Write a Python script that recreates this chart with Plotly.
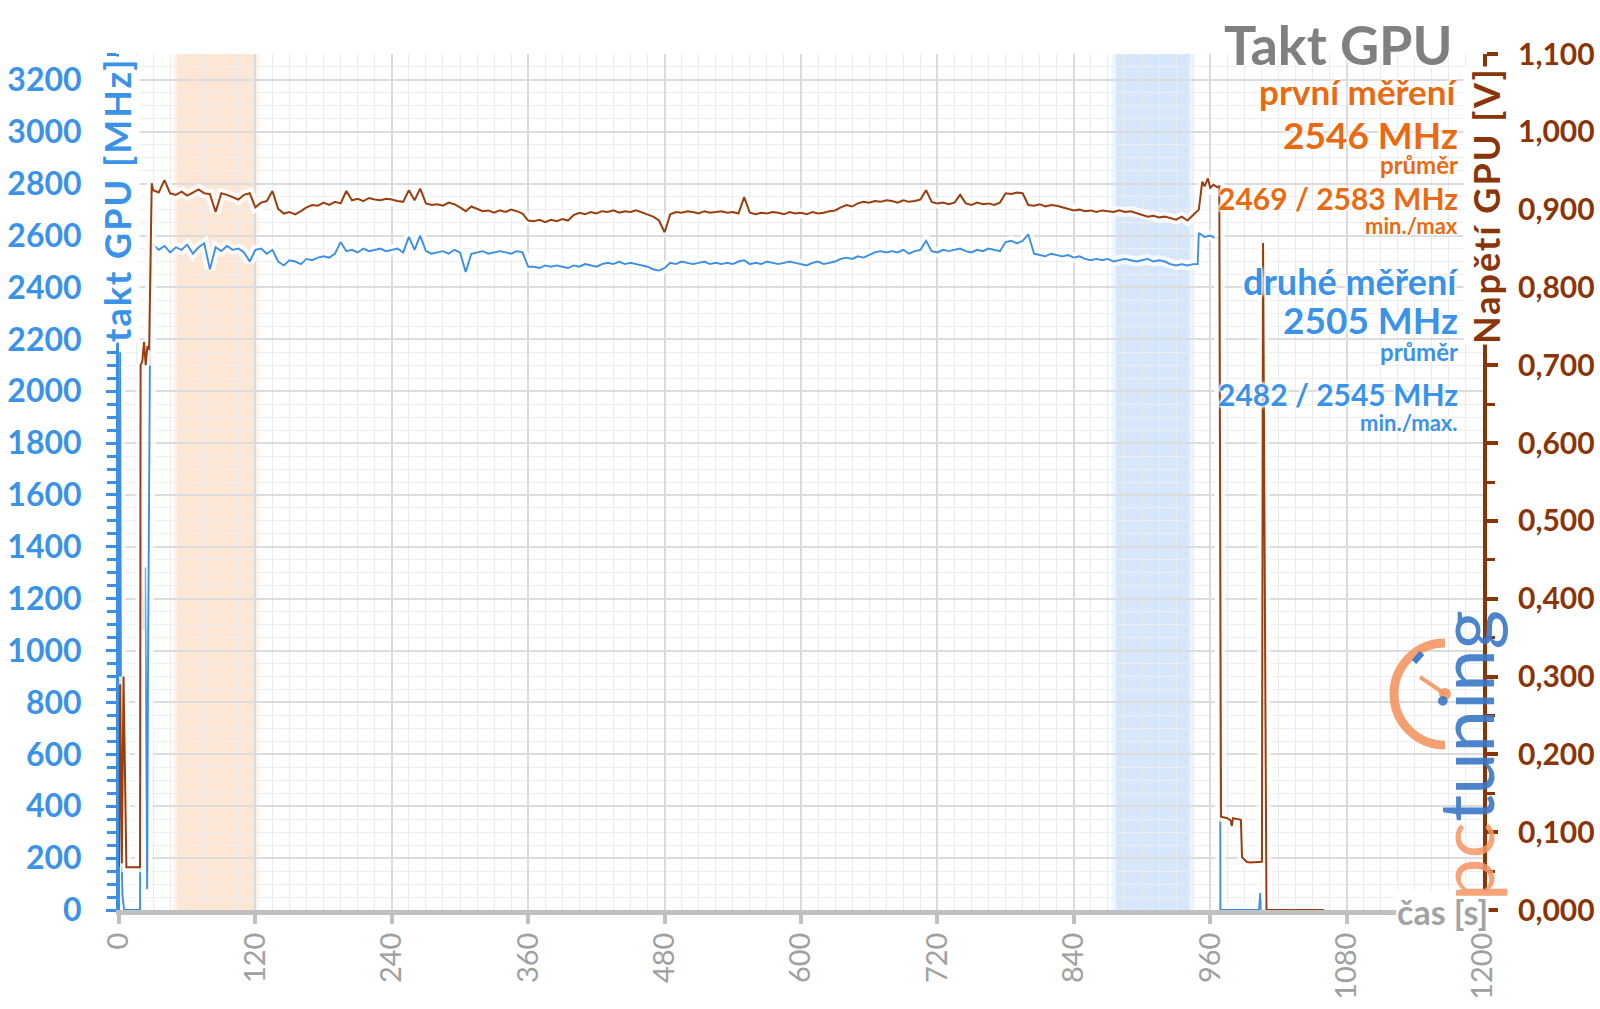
import plotly.graph_objects as go

# ------------------------------------------------------------------ data
x_ticks = [0, 120, 240, 360, 480, 600, 720, 840, 960, 1080, 1200]
left_ticks = [0, 200, 400, 600, 800, 1000, 1200, 1400, 1600, 1800, 2000,
              2200, 2400, 2600, 2800, 3000, 3200]
right_ticks = [0.0, 0.1, 0.2, 0.3, 0.4, 0.5, 0.6, 0.7, 0.8, 0.9, 1.0, 1.1]

# time axis of the steady part of the test [s]
plateau_t = [30, 35, 40, 45, 50, 55, 60, 65, 70, 75,
             80, 85, 90, 95, 100, 105, 110, 115, 120, 125,
             130, 135, 140, 145, 150, 155, 160, 165, 170, 175,
             180, 185, 190, 195, 200, 205, 210, 215, 220, 225,
             230, 235, 240, 245, 250, 255, 260, 265, 270, 275,
             280, 285, 290, 295, 300, 305, 310, 315, 320, 325,
             330, 335, 340, 345, 350, 355, 360, 365, 370, 375,
             380, 385, 390, 395, 400, 405, 410, 415, 420, 425,
             430, 435, 440, 445, 450, 455, 460, 465, 470, 475,
             480, 485, 490, 495, 500, 505, 510, 515, 520, 525,
             530, 535, 540, 545, 550, 555, 560, 565, 570, 575,
             580, 585, 590, 595, 600, 605, 610, 615, 620, 625,
             630, 635, 640, 645, 650, 655, 660, 665, 670, 675,
             680, 685, 690, 695, 700, 705, 710, 715, 720, 725,
             730, 735, 740, 745, 750, 755, 760, 765, 770, 775,
             780, 785, 790, 795, 800, 805, 810, 815, 820, 825,
             830, 835, 840, 845, 850, 855, 860, 865, 870, 875,
             880, 885, 890, 895, 900, 905, 910, 915, 920, 925,
             930, 935, 940, 945]

# GPU clock [MHz] (blue)
clock_start_t = [0, 1, 2, 3, 4.5, 18.5, 19.5, 20.5, 21.5, 23, 24.8, 25.5, 27.5, 28.8]
clock_start_mhz = [0, 2150, 300, 60, 0, 0, 1450, 1100, 1080, 1320, 80, 900, 2350, 2565]
clock_plateau_mhz = [2565, 2545, 2560, 2535, 2555, 2545, 2565, 2530, 2555, 2570,
                     2470, 2555, 2540, 2560, 2545, 2550, 2535, 2500, 2545, 2550,
                     2530, 2545, 2500, 2485, 2505, 2500, 2490, 2510, 2505, 2515,
                     2520, 2515, 2530, 2575, 2540, 2545, 2535, 2550, 2540, 2545,
                     2550, 2540, 2545, 2550, 2535, 2595, 2545, 2600, 2540, 2530,
                     2535, 2540, 2530, 2545, 2535, 2460, 2530, 2535, 2540, 2530,
                     2535, 2540, 2535, 2530, 2540, 2535, 2480, 2480, 2475, 2485,
                     2480, 2485, 2480, 2475, 2485, 2480, 2490, 2485, 2480, 2490,
                     2495, 2490, 2500, 2490, 2495, 2490, 2485, 2480, 2470, 2465,
                     2475, 2495, 2490, 2500, 2495, 2490, 2495, 2500, 2490, 2495,
                     2490, 2495, 2490, 2500, 2505, 2490, 2495, 2490, 2500, 2495,
                     2490, 2495, 2500, 2495, 2490, 2485, 2495, 2500, 2490, 2495,
                     2500, 2510, 2515, 2510, 2520, 2515, 2525, 2535, 2540, 2535,
                     2540, 2535, 2545, 2530, 2540, 2545, 2580, 2540, 2535, 2545,
                     2540, 2545, 2550, 2540, 2535, 2545, 2540, 2550, 2545, 2540,
                     2575, 2580, 2570, 2580, 2605, 2530, 2525, 2520, 2530, 2525,
                     2520, 2525, 2515, 2520, 2510, 2505, 2510, 2505, 2510, 2500,
                     2505, 2510, 2505, 2500, 2505, 2510, 2500, 2505, 2500, 2490,
                     2485, 2490, 2485, 2490]
clock_end_t = [949, 950, 955, 960, 965, 968, 969, 1003, 1004, 1005, 1008]
clock_end_mhz = [2490, 2610, 2595, 2600, 2590, 2595, 0, 0, 65, 0, 0]

# GPU voltage [V] (brown)
volt_start_t = [0, 1, 2.5, 4, 6.5, 18.5, 19, 20.5, 22, 23.5, 25, 26.5, 28.8]
volt_start_v = [0.055, 0.29, 0.06, 0.30, 0.055, 0.055, 0.70, 0.705, 0.73, 0.70, 0.725, 0.72, 0.934]
volt_plateau_v = [0.925, 0.922, 0.938, 0.921, 0.919, 0.923, 0.918, 0.922, 0.926, 0.921,
                  0.920, 0.897, 0.921, 0.919, 0.916, 0.913, 0.919, 0.921, 0.903, 0.909,
                  0.911, 0.924, 0.901, 0.895, 0.897, 0.894, 0.898, 0.903, 0.906, 0.905,
                  0.909, 0.906, 0.910, 0.908, 0.924, 0.912, 0.914, 0.911, 0.915, 0.913,
                  0.912, 0.914, 0.913, 0.911, 0.910, 0.925, 0.912, 0.927, 0.908, 0.906,
                  0.907, 0.905, 0.909, 0.907, 0.903, 0.898, 0.904, 0.901, 0.898, 0.899,
                  0.896, 0.899, 0.897, 0.900, 0.898, 0.895, 0.886, 0.885, 0.887, 0.884,
                  0.887, 0.885, 0.888, 0.886, 0.893, 0.896, 0.894, 0.897, 0.895, 0.898,
                  0.897, 0.899, 0.896, 0.898, 0.897, 0.899, 0.896, 0.894, 0.891, 0.886,
                  0.871, 0.894, 0.897, 0.896, 0.898, 0.897, 0.895, 0.898, 0.896, 0.897,
                  0.898, 0.896, 0.897, 0.895, 0.916, 0.896, 0.894, 0.896, 0.895, 0.897,
                  0.896, 0.894, 0.897, 0.895, 0.896, 0.894, 0.897, 0.895, 0.896, 0.898,
                  0.899, 0.903, 0.906, 0.904, 0.908, 0.910, 0.909, 0.911, 0.910, 0.912,
                  0.911, 0.909, 0.912, 0.910, 0.911, 0.913, 0.925, 0.910, 0.908, 0.909,
                  0.907, 0.909, 0.919, 0.908, 0.906, 0.909, 0.907, 0.908, 0.906, 0.909,
                  0.921, 0.920, 0.922, 0.921, 0.906, 0.905, 0.907, 0.904, 0.906, 0.905,
                  0.903, 0.901, 0.899, 0.900, 0.898, 0.899, 0.897, 0.899, 0.898, 0.897,
                  0.899, 0.897, 0.898, 0.896, 0.893, 0.891, 0.892, 0.890, 0.891, 0.889,
                  0.887, 0.891, 0.886, 0.893]
volt_end_t = [950, 953, 955, 958, 960, 963, 966, 968, 969.5, 975, 978, 979, 980, 987,
              988, 992, 995, 1005.5, 1006.5, 1009.5, 1060]
volt_end_v = [0.900, 0.936, 0.930, 0.940, 0.928, 0.932, 0.929, 0.930, 0.120, 0.118, 0.115,
              0.108, 0.118, 0.116, 0.068, 0.062, 0.061, 0.062, 0.857, 0.0, 0.0]

# highlighted intervals [s]
first_run_span = [51, 120]
second_run_span = [877, 942]

# ------------------------------------------------------------------ styling
BLUE = "#3b8fe4"
BLUE_TXT = "#3a93e8"
BROWN = "#9c3d0e"
BROWN_AX = "#8a3508"
ORANGE = "#ea6a12"
FONT = "Lato"
GLOW = "0px 0px 3px #ffffff, 0px 0px 3px #ffffff, 0px 0px 4px #ffffff, 0px 0px 4px #ffffff"

W, H = 1600, 1009
PL, PR, PT, PB = 119, 1483, 54, 910


def px(x):
    return (x - PL) / (PR - PL)


def py(y):
    return (PB - y) / (PB - PT)


clock_t = clock_start_t + plateau_t + clock_end_t
clock_mhz = clock_start_mhz + clock_plateau_mhz + clock_end_mhz
volt_t = volt_start_t + plateau_t + volt_end_t
volt_v = volt_start_v + volt_plateau_v + volt_end_v

fig = go.Figure()

# soft white glow under the lines
fig.add_trace(go.Scatter(x=clock_t, y=clock_mhz, mode="lines", yaxis="y",
                         line=dict(color="rgba(255,255,255,0.8)", width=10),
                         hoverinfo="skip", showlegend=False))
fig.add_trace(go.Scatter(x=clock_t, y=clock_mhz, mode="lines", yaxis="y",
                         line=dict(color=BLUE, width=1.9),
                         name="takt GPU", showlegend=False))
fig.add_trace(go.Scatter(x=volt_t, y=volt_v, mode="lines", yaxis="y2",
                         line=dict(color="rgba(255,255,255,0.8)", width=10),
                         hoverinfo="skip", showlegend=False))
fig.add_trace(go.Scatter(x=volt_t, y=volt_v, mode="lines", yaxis="y2",
                         line=dict(color=BROWN, width=2.0),
                         name="Napětí GPU", showlegend=False))

shapes = []
# highlighted spans (with soft edges)
for span, col, soft in [(first_run_span, "rgba(252,226,204,0.85)", "rgba(252,226,204,0.4)"),
                        (second_run_span, "rgba(212,230,251,0.95)", "rgba(212,230,251,0.45)")]:
    shapes.append(dict(type="rect", xref="x", yref="paper", x0=span[0], x1=span[1],
                       y0=0, y1=1, fillcolor=col, line_width=0, layer="below"))
    shapes.append(dict(type="rect", xref="x", yref="paper", x0=span[0] - 3, x1=span[0],
                       y0=0, y1=1, fillcolor=soft, line_width=0, layer="below"))
    shapes.append(dict(type="rect", xref="x", yref="paper", x0=span[1], x1=span[1] + 3,
                       y0=0, y1=1, fillcolor=soft, line_width=0, layer="below"))

# pctuning logo gauge (half circle, needle)
cx, cy, r = 1445, 694, 51
k = 0.5523 * r
pts = [(cx, cy - r), (cx - k, cy - r), (cx - r, cy - k), (cx - r, cy),
       (cx - r, cy + k), (cx - k, cy + r), (cx, cy + r)]
P = [(px(a), py(b)) for a, b in pts]
arc = ("M {0[0]},{0[1]} C {1[0]},{1[1]} {2[0]},{2[1]} {3[0]},{3[1]} "
       "C {4[0]},{4[1]} {5[0]},{5[1]} {6[0]},{6[1]}").format(*P)
LOGO_OR = "rgba(244,150,100,0.9)"
LOGO_BL = "rgba(58,120,200,0.95)"
shapes.append(dict(type="path", xref="paper", yref="paper", path=arc,
                   line=dict(color=LOGO_OR, width=9), layer="above"))
shapes.append(dict(type="line", xref="paper", yref="paper",
                   x0=px(cx), y0=py(cy), x1=px(cx - 25), y1=py(cy - 17),
                   line=dict(color=LOGO_OR, width=4), layer="above"))
shapes.append(dict(type="circle", xref="paper", yref="paper",
                   x0=px(cx - 6), x1=px(cx + 6), y0=py(cy - 6), y1=py(cy + 6),
                   fillcolor=LOGO_OR, line_width=0, layer="above"))
shapes.append(dict(type="line", xref="paper", yref="paper",
                   x0=px(1414), y0=py(662), x1=px(1422), y1=py(653),
                   line=dict(color=LOGO_BL, width=6), layer="above"))

annotations = []


def ann(text, xr, yc, size, color, bold=True, xanchor="right", angle=0, yanchor="middle",
        bg=None):
    annotations.append(dict(
        text=text, xref="paper", yref="paper", x=px(xr), y=py(yc),
        xanchor=xanchor, yanchor=yanchor, showarrow=False, textangle=angle,
        bgcolor=bg, borderpad=0,
        font=dict(family=FONT, size=size, color=color,
                  weight="bold" if bold else "normal", shadow=GLOW)))


ann("Takt GPU", 1454, 45, 54, "#808080")
ann("první měření", 1459, 91, 35, ORANGE)
ann("2546 MHz", 1459, 134, 37, ORANGE)
ann("průměr", 1459, 165, 24, ORANGE)
ann("2469 / 2583 MHz", 1459, 198, 30, ORANGE)
ann("min./max", 1459, 225, 22, ORANGE)
ann("druhé měření", 1459, 281, 36, BLUE_TXT)
ann("2505 MHz", 1459, 320, 37, BLUE_TXT)
ann("průměr", 1459, 352, 24, BLUE_TXT)
ann("2482 / 2545 MHz", 1459, 394, 30, BLUE_TXT)
ann("min./max.", 1459, 422, 22, BLUE_TXT)

# axis titles (placed at the top of each axis, rotated)
ann("<span style='letter-spacing:2px'>takt GPU [MHz]</span>", 117, 200, 36, BLUE_TXT,
    xanchor="center", angle=-90, bg="white")
ann("<span style='letter-spacing:2px'>Napětí GPU [V]</span>", 1486, 206, 36, BROWN_AX,
    xanchor="center", angle=-90, bg="white")
ann("čas [s]", 1489, 911, 34, "#a3a3a3", bg="white")

# logo text
annotations.append(dict(
    text="<span style='color:%s'>pc</span><span style='color:%s'>tuning</span>" % (LOGO_OR, LOGO_BL),
    xref="paper", yref="paper", x=px(1464), y=py(756), xanchor="center", yanchor="middle",
    showarrow=False, textangle=-90,
    font=dict(family=FONT, size=76, color=LOGO_BL)))

fig.update_layout(
    width=W, height=H,
    margin=dict(l=PL, r=W - PR, t=PT, b=H - PB, pad=0, autoexpand=False),
    paper_bgcolor="white", plot_bgcolor="white",
    showlegend=False,
    font=dict(family=FONT),
    shapes=shapes,
    annotations=annotations,
    xaxis=dict(
        range=[0, 1200], tickmode="array", tickvals=x_ticks,
        ticktext=[str(v) for v in x_ticks], tickangle=-90,
        tickfont=dict(family=FONT, size=29, color="#a0a0a0"),
        ticks="outside", ticklen=9, tickwidth=4, tickcolor="#c0c0c0",
        ticklabelstandoff=-3, automargin=False,
        showline=True, linecolor="#c0c0c0", linewidth=5,
        showgrid=True, gridcolor="#d9d9e0", gridwidth=2,
        minor=dict(dtick=15, tick0=0, showgrid=True, gridcolor="#ebebeb", gridwidth=1),
        zeroline=False,
    ),
    yaxis=dict(
        range=[0, 3300], tickmode="array", tickvals=left_ticks,
        ticktext=[str(v) for v in left_ticks],
        tickfont=dict(family=FONT, size=32, color=BLUE_TXT, weight="bold"),
        ticks="outside", ticklen=10, tickwidth=3, tickcolor=BLUE,
        ticklabelstandoff=18, automargin=False,
        showline=True, linecolor=BLUE, linewidth=3,
        showgrid=True, gridcolor="#dcdcdc", gridwidth=1.5,
        minor=dict(dtick=50, tick0=0, showgrid=True, gridcolor="#eeeeee", gridwidth=1,
                   ticks="outside", ticklen=9, tickwidth=3, tickcolor=BLUE),
        zeroline=False,
    ),
    yaxis2=dict(
        range=[0, 1.1], overlaying="y", side="right", tickmode="array",
        tickvals=right_ticks,
        ticktext=[("%.3f" % v).replace(".", ",") for v in right_ticks],
        tickfont=dict(family=FONT, size=30, color=BROWN_AX, weight="bold"),
        ticks="outside", ticklen=11, tickwidth=4, tickcolor=BROWN_AX,
        ticklabelstandoff=14, automargin=False,
        showline=True, linecolor=BROWN_AX, linewidth=4,
        showgrid=False, zeroline=False,
        minor=dict(dtick=0.05, tick0=0, ticks="outside", ticklen=8, tickwidth=3,
                   tickcolor=BROWN_AX),
    ),
)

fig.write_html("out.html",
               config={"displayModeBar": False},
               post_script="document.body.style.margin='0px';"
                           "document.body.style.overflow='hidden';")
